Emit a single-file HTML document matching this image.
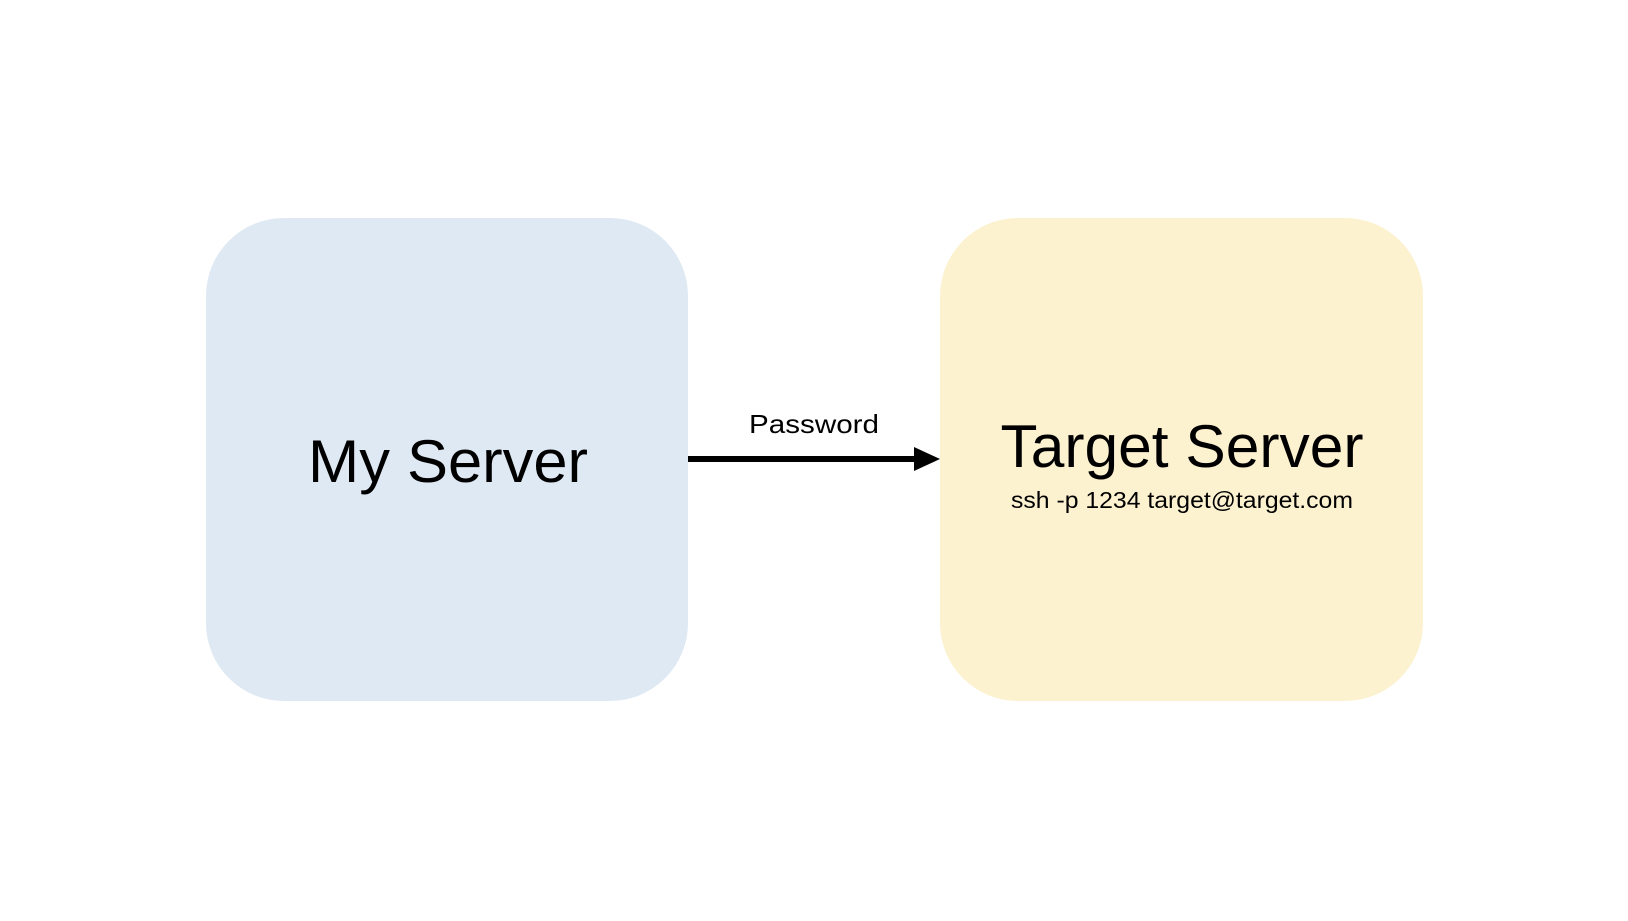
<!DOCTYPE html>
<html><head><meta charset="utf-8"><style>html,body{margin:0;padding:0;background:#fff}</style></head>
<body>
<svg width="1628" height="916" viewBox="0 0 1628 916" xmlns="http://www.w3.org/2000/svg" font-family="Liberation Sans, sans-serif">
<rect x="206" y="218" width="482" height="483" rx="78" ry="78" fill="#dfe9f4"/>
<rect x="940" y="218" width="483" height="483" rx="78" ry="78" fill="#fcf2d0"/>
<line x1="688" y1="459" x2="918" y2="459" stroke="#000" stroke-width="6"/>
<polygon points="914,447 940,459 914,471" fill="#000"/>
<text x="814" y="433" font-size="26" text-anchor="middle" textLength="130" lengthAdjust="spacingAndGlyphs">Password</text>
<text x="448" y="482" font-size="60" text-anchor="middle" textLength="280" lengthAdjust="spacingAndGlyphs">My Server</text>
<text x="1182" y="467" font-size="60" text-anchor="middle" textLength="363" lengthAdjust="spacingAndGlyphs">Target Server</text>
<text x="1182" y="508" font-size="23" text-anchor="middle" textLength="342" lengthAdjust="spacingAndGlyphs">ssh -p 1234 target@target.com</text>
</svg>
</body></html>
